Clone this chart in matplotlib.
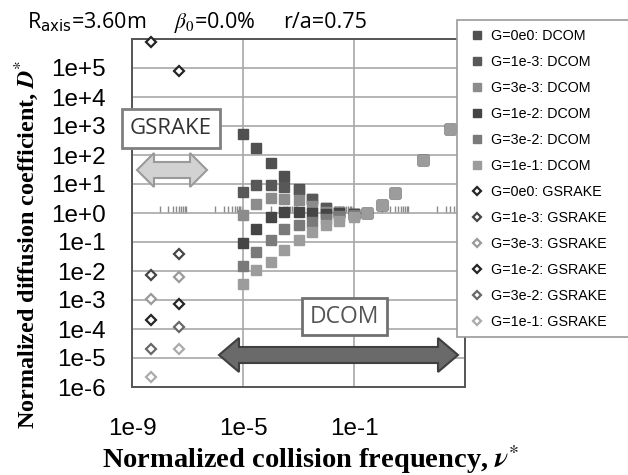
import matplotlib
matplotlib.use("Agg")
import matplotlib.pyplot as plt
from matplotlib.patches import Polygon, Rectangle
from matplotlib.ticker import FixedLocator, NullLocator, NullFormatter

# ---- data ----
nu_dcom = [1e-5, 3e-5, 1e-4, 3e-4, 1e-3, 3e-3, 1e-2, 3e-2, 1e-1, 3e-1, 1e0, 3e0, 3e1, 3e2]
dcom_g0 = [5.2e2, 1.7e2, 5.5e1, 1.9e1, 6.6, 3.0, 1.45, 1.12, 0.93, 0.98, 1.9, 5.0, 68, 780]
dcom_g1e3 = [5.4, 9.3, 9.3, 7.8, 6.3, 3.0, 1.45, 1.12, 0.93, 0.98, 1.9, 5.0, 68, 780]
dcom_g3e3 = [0.85, 2.0, 3.2, 3.0, 2.8, 1.7, 1.12, 1.07, 0.93, 0.98, 1.9, 5.0, 68, 780]
dcom_g1e2 = [0.095, 0.28, 0.74, 1.12, 1.12, 0.98, 0.9, 1.0, 0.9, 0.98, 1.9, 5.0, 68, 780]
dcom_g3e2 = [0.015, 0.047, 0.12, 0.28, 0.39, 0.5, 0.63, 0.8, 0.85, 0.98, 1.9, 5.0, 68, 780]
dcom_g1e1 = [0.0035, 0.011, 0.021, 0.052, 0.12, 0.23, 0.39, 0.54, 0.74, 1.02, 1.9, 5.0, 68, 780]

nu_gsrake = [5e-9, 5e-8]
gs_g0 = [8.1e5, 8.1e4]
gs_g1e3 = [7.2e-3, 3.9e-2]
gs_g3e3 = [1.05e-3, 6.0e-3]
gs_g1e2 = [2.0e-4, 7.2e-4]
gs_g3e2 = [2.1e-5, 1.15e-4]
gs_g1e1 = [2.3e-6, 2.1e-5]

g_labels = ["0e0", "1e-3", "3e-3", "1e-2", "3e-2", "1e-1"]
dcom_colors = ["#505050", "#585858", "#8c8c8c", "#454545", "#7a7a7a", "#9c9c9c"]
gs_colors = ["#252525", "#464646", "#9a9a9a", "#252525", "#686868", "#ababab"]

x_ticks = [1e-9, 1e-5, 1e-1, 1e3]
x_ticklabels = ["1e-9", "1e-5", "1e-1", ""]
y_ticks = [10.0 ** e for e in range(-6, 7)]
y_ticklabels = ["1e-6", "1e-5", "1e-4", "1e-3", "1e-2", "1e-1", "1e+0",
                "1e+1", "1e+2", "1e+3", "1e+4", "1e+5", ""]

W, H = 628, 475


def fx(x):
    return x / W


def fy(y):
    return 1 - y / H


def block_darrow(x0, x1, yc, head_len, head_h, shaft_h, **kw):
    """double headed block arrow, given in pixels from the top-left corner"""
    pts = [(x0, yc), (x0 + head_len, yc - head_h), (x0 + head_len, yc - shaft_h),
           (x1 - head_len, yc - shaft_h), (x1 - head_len, yc - head_h), (x1, yc),
           (x1 - head_len, yc + head_h), (x1 - head_len, yc + shaft_h),
           (x0 + head_len, yc + shaft_h), (x0 + head_len, yc + head_h)]
    return Polygon([(fx(a), fy(b)) for a, b in pts], closed=True,
                   transform=fig.transFigure, **kw)


plt.rcParams['font.family'] = ['Liberation Sans', 'DejaVu Sans']

fig = plt.figure(figsize=(W / 100, H / 100), dpi=100)
ax_rect = [fx(132), fy(387), fx(465) - fx(132), fy(39) - fy(387)]
ax = fig.add_axes(ax_rect)
ax.set_xscale('log')
ax.set_yscale('log')
ax.set_xlim(1e-9, 1e3)
ax.set_ylim(1e-6, 1e6)

ax.xaxis.set_major_locator(FixedLocator(x_ticks))
ax.xaxis.set_minor_locator(NullLocator())
ax.yaxis.set_major_locator(FixedLocator(y_ticks))
ax.yaxis.set_minor_locator(NullLocator())
ax.set_xticklabels(x_ticklabels)
ax.set_yticklabels(y_ticklabels)
ax.tick_params(axis='x', length=0, pad=22, labelsize=17.5)
ax.tick_params(axis='y', length=0, pad=19, labelsize=17.5)
ax.grid(True, color='#a8a8a8', lw=1.2)
ax.set_axisbelow(True)
for s in ax.spines.values():
    s.set_color('#555555')
    s.set_linewidth(1.4)

# horizontal axis crossing at D*=1, minor ticks only
ax_cross = fig.add_axes(ax_rect)
ax_cross.set_xscale('log')
ax_cross.set_xlim(1e-9, 1e3)
ax_cross.patch.set_visible(False)
ax_cross.yaxis.set_visible(False)
for s in ax_cross.spines.values():
    s.set_visible(False)
ax_cross.spines['bottom'].set_position(('axes', 0.5))
ax_cross.xaxis.set_major_locator(NullLocator())
ax_cross.xaxis.set_minor_locator(FixedLocator([k * 10.0 ** e for e in range(-8, 3, 2) for k in range(1, 10)]))
ax_cross.xaxis.set_minor_formatter(NullFormatter())
ax_cross.tick_params(which='minor', length=5, width=1, color='#8a8a8a', direction='in')

ax.set_zorder(1)
ax.patch.set_visible(False)
ax_cross.set_zorder(0.5)

dcom_series = [dcom_g0, dcom_g1e3, dcom_g3e3, dcom_g1e2, dcom_g3e2, dcom_g1e1]
gs_series = [gs_g0, gs_g1e3, gs_g3e3, gs_g1e2, gs_g3e2, gs_g1e1]

handles, labels = [], []
for d, c, g in zip(dcom_series, dcom_colors, g_labels):
    h, = ax.plot(nu_dcom, d, ls='none', marker='s', ms=6.5, mfc=c, mec=c, zorder=3)
    handles.append(h)
    labels.append(f"G={g}: DCOM")
for d, c, g in zip(gs_series, gs_colors, g_labels):
    h, = ax.plot(nu_gsrake, d, ls='none', marker='D', ms=5, mfc='white', mec=c,
                 mew=1.6, zorder=4, clip_on=False)
    handles.append(h)
    labels.append(f"G={g}: GSRAKE")

leg = fig.legend(handles, labels, loc='upper left',
                 bbox_to_anchor=(fx(457), 0.0, 0.5, fy(20)), mode='expand',
                 borderaxespad=0, fontsize=10.3, labelspacing=0.84, borderpad=0.6,
                 handlelength=1.6, handletextpad=0.15, markerscale=0.8,
                 fancybox=False, framealpha=1, edgecolor='#9a9a9a')
leg.get_frame().set_linewidth(1.2)
leg.set_zorder(10)

# annotation boxes and arrows
fig.patches.append(Rectangle((fx(122), fy(148)), fx(220) - fx(122), fy(109) - fy(148),
                             transform=fig.transFigure, fc='white', ec='#808080', lw=2, zorder=5))
fig.text(fx(171), fy(129), "GSRAKE", family='Open Sans', fontsize=16, color='#333333',
         ha='center', va='center', zorder=6)
fig.patches.append(block_darrow(137, 207, 170, 17, 17, 8, fc='#d2d2d2', ec='#9a9a9a', lw=1.5, zorder=5))

fig.patches.append(Rectangle((fx(302), fy(335)), fx(387) - fx(302), fy(298) - fy(335),
                             transform=fig.transFigure, fc='white', ec='#707070', lw=2, zorder=5))
fig.text(fx(344.5), fy(317), "DCOM", family='Open Sans', fontsize=16.5, color='#555555',
         ha='center', va='center', zorder=6)
fig.patches.append(block_darrow(219, 458, 355, 20, 17, 8, fc='#6a6a6a', ec='#404040', lw=1.5, zorder=5))

# header
fig.text(fx(27), fy(28), r"R$_{\rm axis}$=3.60m", family='Open Sans', fontsize=15.5,
         math_fontfamily='dejavusans', va='baseline')
fig.text(fx(174), fy(28), r"$\beta_0$=0.0%", family='Open Sans', fontsize=15.5,
         math_fontfamily='stix', va='baseline')
fig.text(fx(283), fy(28), "r/a=0.75", family='Open Sans', fontsize=15.5, va='baseline')

# axis titles
fig.text(fx(310), fy(468), r"Normalized collision frequency, $\mathbfit{\nu}^{*}$",
         family='Liberation Serif', fontweight='bold', fontsize=20.5,
         math_fontfamily='stix', ha='center', va='baseline')
fig.text(fx(27), fy(245), r"Normalized diffusion coefficient, $\mathbfit{D}^{*}$",
         family='Liberation Serif', fontweight='bold', fontsize=17.4,
         math_fontfamily='stix', ha='center', va='center', rotation=90)

fig.savefig("out.png", dpi=100)
